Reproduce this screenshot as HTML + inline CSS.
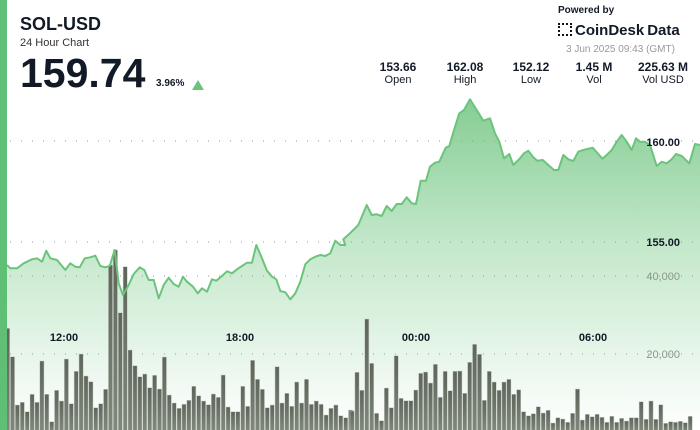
<!DOCTYPE html>
<html><head><meta charset="utf-8">
<style>
body{margin:0;width:700px;height:430px;overflow:hidden;background:#fff;font-family:"Liberation Sans",sans-serif;}
svg{position:absolute;left:0;top:0}
.t{position:absolute;color:#111a26}
</style></head><body>
<svg id="s" width="700" height="430" xmlns="http://www.w3.org/2000/svg">
<defs>
<linearGradient id="ag" gradientUnits="userSpaceOnUse" x1="0" y1="95" x2="0" y2="430">
<stop offset="0" stop-color="#84cc92"/><stop offset="0.45" stop-color="#c4e8cb"/><stop offset="1" stop-color="#ffffff"/></linearGradient>
<linearGradient id="bg" x1="0" y1="0" x2="0" y2="1"><stop offset="0" stop-color="#5e655b"/><stop offset="1" stop-color="#7f887b"/></linearGradient>
</defs>
<path id="area" fill="url(#ag)"/>
<g id="grid"></g>
<g id="bars"></g>
<path id="line" fill="none" stroke="#6cc47c" stroke-width="2" stroke-linejoin="round"/>
<rect x="0" y="0" width="7" height="430" fill="#5fbf74"/>
<g font-family="Liberation Sans,sans-serif" font-weight="bold" font-size="11" fill="#111a26" text-anchor="middle">
<text x="64" y="341">12:00</text><text x="240" y="341">18:00</text><text x="416" y="341">00:00</text><text x="593" y="341">06:00</text>
</g>
<g font-family="Liberation Sans,sans-serif" font-size="11" text-anchor="end">
<text x="680" y="146" font-weight="bold" fill="#111a26">160.00</text>
<text x="680" y="246" font-weight="bold" fill="#111a26">155.00</text>
<text x="680" y="280" fill="#8a9586">40,000</text>
<text x="680" y="358" fill="#8a9586">20,000</text>
</g>
</svg>
<div class="t" style="left:20px;top:14px;font-size:18px;font-weight:bold">SOL-USD</div>
<div class="t" style="left:20px;top:37px;font-size:11px;color:#333">24 Hour Chart</div>
<div class="t" style="left:20px;top:50px;font-size:41px;font-weight:bold;letter-spacing:0px">159.74</div>
<div class="t" style="left:156px;top:78px;font-size:10px;font-weight:bold">3.96%</div>
<div style="position:absolute;left:192px;top:80px;width:0;height:0;border-left:6px solid transparent;border-right:6px solid transparent;border-bottom:10px solid #6cc47c"></div>
<div class="t" style="left:558px;top:5px;font-size:10px;font-weight:bold">Powered by</div>
<div class="t" style="left:558px;top:22px;font-size:15px;font-weight:bold"><span style="display:inline-block;width:14px;height:13px;border:2px dotted #111;box-sizing:border-box;margin-right:3px;vertical-align:-1px"></span>CoinDesk&#8239;Data</div>
<div class="t" style="left:566px;top:44px;font-size:10px;color:#999">3 Jun 2025 09:43 (GMT)</div>
<div class="t" style="left:370px;top:60px;width:330px;font-size:11px">
<div style="position:absolute;left:0;width:56px;text-align:center"><b style="font-size:12px">153.66</b><br>Open</div>
<div style="position:absolute;left:67px;width:56px;text-align:center"><b style="font-size:12px">162.08</b><br>High</div>
<div style="position:absolute;left:133px;width:56px;text-align:center"><b style="font-size:12px">152.12</b><br>Low</div>
<div style="position:absolute;left:196px;width:56px;text-align:center"><b style="font-size:12px">1.45 M</b><br>Vol</div>
<div style="position:absolute;left:262px;width:62px;text-align:center"><b style="font-size:12px">225.63 M</b><br>Vol USD</div>
</div>
<script>
var NS="http://www.w3.org/2000/svg";
var L=[[0,105],[10,115],[30,115],[50,100],[75,88],[90,85],[105,95],[118,62],[130,85],[150,90],[175,120],[190,100],[205,110],[218,112],[233,85],[250,82],[265,77],[280,108],[295,112],[308,108],[323,60],[335,160],[348,195],[365,165],[380,132],[398,112],[412,120],[425,150],[440,150],[455,205],[470,165],[485,143],[500,162],[515,170],[528,140],[540,155],[558,170],[572,190],[585,175],[600,185],[615,148],[628,152],[645,138],[660,124],[675,130],[690,118],[705,108],[720,98],[735,98],[748,45],[763,80],[780,122],[795,140],[808,148],[820,183],[835,187],[850,208],[865,190],[880,155],[895,103],[910,88],[925,80],[940,75],[955,78],[970,70],[985,32],[1000,45],[1015,45]];
var R=[[130,478],[150,460],[175,435],[200,375],[215,405],[230,403],[245,408],[260,378],[275,393],[290,372],[305,372],[320,352],[335,370],[348,372],[362,302],[378,302],[390,260],[405,248],[418,245],[437,203],[448,198],[462,150],[478,100],[492,90],[510,58],[530,90],[550,122],[570,115],[585,160],[598,185],[612,235],[628,222],[640,255],[660,235],[672,220],[685,212],[700,232],[712,242],[728,240],[745,255],[762,270],[775,270],[790,225],[805,238],[820,243],[835,215],[850,210],[878,203],[895,222],[907,236],[920,225],[935,210],[950,185],[965,165],[980,185],[995,210],[1008,175],[1020,185],[1035,185],[1050,195],[1070,258],[1085,245],[1100,250],[1115,238],[1128,222],[1145,228],[1168,250],[1185,192],[1200,195]];
var P=[];L.forEach(function(p){P.push([7+p[0]/3,p[1]/3+230])});R.forEach(function(p){P.push([p[0]/3+300,p[1]/3+80])});
var d="M"+P.map(function(p){return p[0].toFixed(1)+","+p[1].toFixed(1)}).join(" L");
document.getElementById("line").setAttribute("d",d);
document.getElementById("area").setAttribute("d",d+" L700,430 L7,430 Z");
var g=document.getElementById("grid");
[141,242,276,354].forEach(function(y){var l=document.createElementNS(NS,"line");l.setAttribute("x1",10);l.setAttribute("x2",700);l.setAttribute("y1",y);l.setAttribute("y2",y);l.setAttribute("stroke","#999");l.setAttribute("stroke-width","1");l.setAttribute("stroke-dasharray","1 10");g.appendChild(l);});
var B1=[295,380,525,517,545,493,517,393,493,575,481,513,387,521,424,372,438,455,533,521,478,105,60,248,110,360,407,440,432,473,436,477,381,495,519,535,523,511,469,497,513,524,492,502,435,531,545,545,469,529,391,448,478,533,525,410,519,490,529,456,519,448,523,513,523,555,535,525,557,563,540];
var B2=[543,427,481,267,400,550,572,474,533,377,505,512,512,480,430,426,459,403,502,424,482,424,423,490,397,343,373,511,424,456,481,456,448,493,479,545,557,551,530,549,541,579,563,567,577,550,477,570,553,560,553,562,577,559,577,565,573,563,563,515,568,513,568,524,580,575,577,574,578,559];
var bg=document.getElementById("bars");
function bar(x,top){var r=document.createElementNS(NS,"rect");r.setAttribute("x",x.toFixed(1));r.setAttribute("y",top.toFixed(1));r.setAttribute("width",4.2);r.setAttribute("height",(431-top).toFixed(1));r.setAttribute("fill","url(#bg)");r.setAttribute("stroke","#c9cfc6");r.setAttribute("stroke-width","0.5");bg.appendChild(r);}
B1.forEach(function(t,i){bar(5.5+i*4.9,t/3+230)});
B2.forEach(function(t,i){bar(350+i*4.9,t/3+230)});
</script>
</body></html>
